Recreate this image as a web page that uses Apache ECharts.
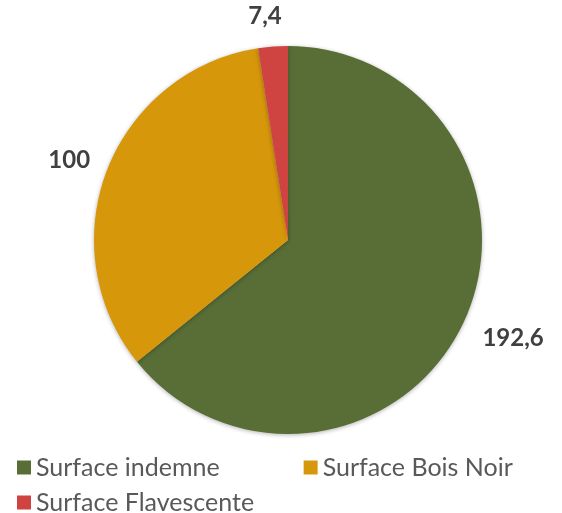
<!DOCTYPE html>
<html><head><meta charset="utf-8">
<script src="https://cdn.jsdelivr.net/npm/echarts@6/dist/echarts.min.js"></script>
<style>html,body{margin:0;padding:0;background:#fff}#c{width:562px;height:513px}</style>
</head><body><div id="c"></div>
<script>
const categories = ["Surface indemne", "Surface Bois Noir", "Surface Flavescente"];
const values = [192.6, 100, 7.4];
const colors = ["#586E36", "#D6970A", "#CF4340"];
const labelOffsets = [[0, 8], [3, -4], [15, -14]];

const chart = echarts.init(document.getElementById('c'), null, {renderer: 'canvas'});
const data = categories.map((n, i) => ({name: n, value: values[i], itemStyle: {color: colors[i]}, label: {offset: labelOffsets[i]}}));
const legendText = {fontFamily: 'Lato', fontSize: 25, color: '#595959'};
chart.setOption({
  animation: false,
  legend: [{
    left: 12, top: 450, itemWidth: 14, itemHeight: 14, itemGap: 84, icon: 'rect',
    data: [categories[0], categories[1]], textStyle: legendText
  }, {
    left: 12, top: 485, itemWidth: 14, itemHeight: 14, icon: 'rect',
    data: [categories[2]], textStyle: legendText
  }],
  series: [{
    type: 'pie',
    center: [288, 240],
    radius: 194,
    startAngle: 90,
    clockwise: true,
    data: data,
    itemStyle: {shadowBlur: 4, shadowColor: 'rgba(0,0,0,0.3)', shadowOffsetY: 1},
    label: {
      show: true, position: 'outside',
      formatter: p => String(p.value).replace('.', ','),
      fontFamily: 'Lato', fontWeight: 'bold', fontSize: 24, color: '#404040'
    },
    labelLine: {show: false, length: 16, length2: 0}
  }]
});
</script></body></html>
